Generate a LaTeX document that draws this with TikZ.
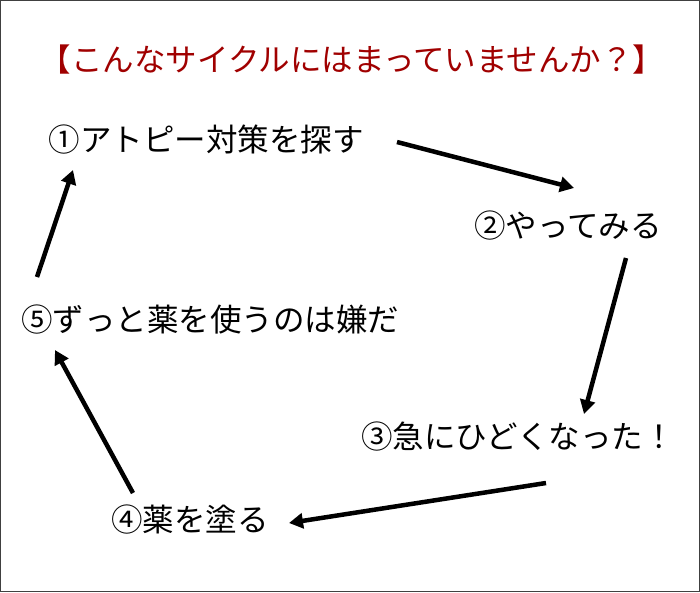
\documentclass[tikz,border=0pt]{standalone}
\usepackage{fontspec}
\setmainfont{Noto Sans CJK JP}
\usetikzlibrary{arrows.meta}
\definecolor{titlered}{HTML}{A00000}
\begin{document}
\begin{tikzpicture}[x=1pt,y=-1pt,
  lbl/.style={font=\fontsize{31.5}{34}\selectfont, inner sep=0pt},
  arr/.style={line width=4.5pt,-{Triangle[length=14pt,width=15pt]}}]
\useasboundingbox (0,0) rectangle (700,592);
\draw[line width=1pt,draw=black!75] (0.5,0.5) rectangle (699.5,591.5);
\node[lbl,text=titlered] (t) at (352,60) {【こんなサイクルにはまっていませんか？】};
\node[lbl] (n1) at (206,140) {①アトピー対策を探す};
\node[lbl] (n2) at (568,226) {②やってみる};
\node[lbl] (n3) at (518,437) {③急にひどくなった！};
\node[lbl] (n4) at (190,520) {④薬を塗る};
\node[lbl] (n5) at (210,320) {⑤ずっと薬を使うのは嫌だ};
\coordinate (a1) at (397,142); \coordinate (b1) at (574,188);
\coordinate (a2) at (626,258); \coordinate (b2) at (584,414);
\coordinate (a3) at (546,483); \coordinate (b3) at (289,523);
\coordinate (a4) at (133,493); \coordinate (b4) at (55,350);
\coordinate (a5) at (37,277);  \coordinate (b5) at (73,170);
\draw[arr] (a1) -- (b1);
\draw[arr] (a2) -- (b2);
\draw[arr] (a3) -- (b3);
\draw[arr] (a4) -- (b4);
\draw[arr] (a5) -- (b5);
\end{tikzpicture}
\end{document}
